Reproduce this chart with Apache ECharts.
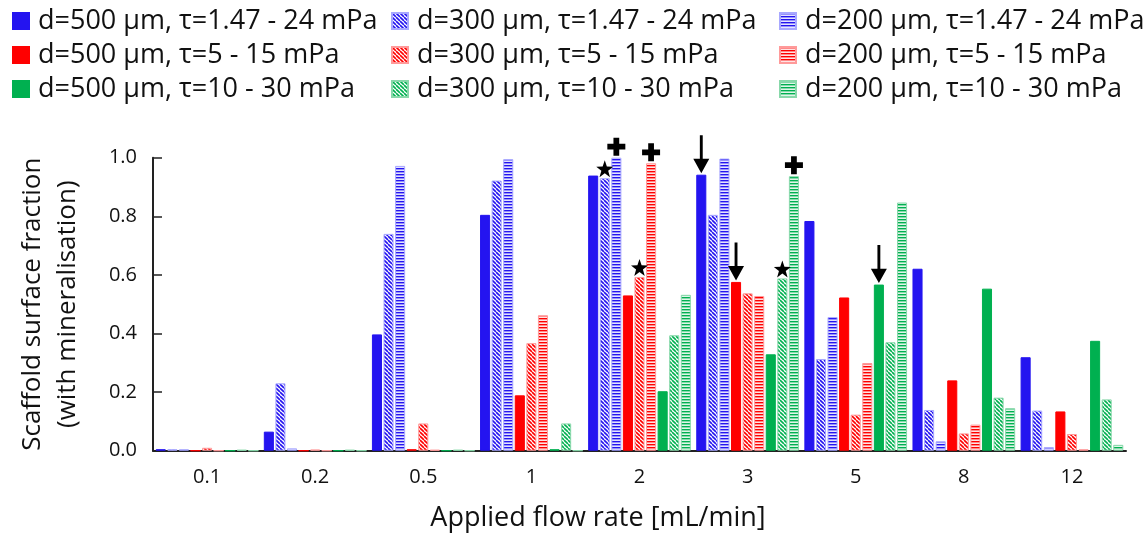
<!DOCTYPE html>
<html>
<head>
<meta charset="utf-8">
<script src="https://cdn.jsdelivr.net/npm/echarts@6/dist/echarts.min.js"></script>
<style>
html,body{margin:0;padding:0;background:#fff;}
#chart{width:1148px;height:534px;}
</style>
</head>
<body>
<div id="chart"></div>
<script>
const categories = ['0.1','0.2','0.5','1','2','3','5','8','12'];
const seriesNames = [
  'd=500 µm, τ=1.47 - 24 mPa','d=300 µm, τ=1.47 - 24 mPa','d=200 µm, τ=1.47 - 24 mPa',
  'd=500 µm, τ=5 - 15 mPa','d=300 µm, τ=5 - 15 mPa','d=200 µm, τ=5 - 15 mPa',
  'd=500 µm, τ=10 - 30 mPa','d=300 µm, τ=10 - 30 mPa','d=200 µm, τ=10 - 30 mPa'
];
const blue500  = [0.005,0.065,0.397,0.805,0.939,0.942,0.784,0.621,0.319];
const blue300  = [0.005,0.230,0.740,0.922,0.930,0.805,0.313,0.139,0.137];
const blue200  = [0.005,0.008,0.972,0.995,1.000,0.997,0.456,0.032,0.012];
const red500   = [0.000,0.000,0.005,0.189,0.530,0.576,0.523,0.240,0.134];
const red300   = [0.010,0.004,0.093,0.367,0.593,0.537,0.123,0.059,0.057];
const red200   = [0.000,0.000,0.003,0.462,0.981,0.528,0.299,0.089,0.005];
const green500 = [0.000,0.000,0.000,0.005,0.203,0.329,0.567,0.553,0.375];
const green300 = [0.003,0.003,0.003,0.093,0.394,0.588,0.370,0.181,0.175];
const green200 = [0.000,0.000,0.000,0.000,0.532,0.937,0.847,0.145,0.020];
const yTicks = ['0.0','0.2','0.4','0.6','0.8','1.0'];

const BLUE='#2414f0', RED='#ff0000', GREEN='#00b050';
const FONT='"Open Sans", "Noto Sans", sans-serif';

function hatch(color){
  const c=document.createElement('canvas'); c.width=4; c.height=4;
  const g=c.getContext('2d'); g.fillStyle='#ffffff'; g.fillRect(0,0,4,4);
  g.strokeStyle=color; g.lineWidth=1.6;
  for(const o of [-4,0,4]){ g.beginPath(); g.moveTo(o,0); g.lineTo(o+4,4); g.stroke(); }
  return {image:c, repeat:'repeat'};
}
function stripes(color, light){
  const c=document.createElement('canvas'); c.width=4; c.height=3;
  const g=c.getContext('2d'); g.fillStyle=light; g.fillRect(0,0,4,3);
  g.fillStyle=color; g.fillRect(0,0,4,1.4);
  return {image:c, repeat:'repeat'};
}
const styles = [
  {color:BLUE, borderColor:BLUE},
  {color:hatch(BLUE), borderColor:'#a8a8ff'},
  {color:stripes(BLUE,'#e4e4ff'), borderColor:'#a8a8ff'},
  {color:RED, borderColor:RED},
  {color:hatch(RED), borderColor:'#ff9a9a'},
  {color:stripes(RED,'#ffe4e4'), borderColor:'#ff9a9a'},
  {color:GREEN, borderColor:GREEN},
  {color:hatch(GREEN), borderColor:'#88d8aa'},
  {color:stripes(GREEN,'#e0f5e8'), borderColor:'#88d8aa'}
];
const values=[blue500,blue300,blue200,red500,red300,red200,green500,green300,green200];

const STAR='path://M50,2 L61.76,35.82 L97.55,36.55 L69.02,58.18 L79.39,92.45 L50,72 L20.61,92.45 L30.98,58.18 L2.45,36.55 L38.24,35.82 Z';
const PLUS='path://M34,0 H66 V34 H100 V66 H66 V100 H34 V66 H0 V34 H34 Z';
const ARROW='path://M41,0 H59 V62 H100 L50,100 L0,62 H41 Z';
function star(ci,v){return {coord:[ci,v],symbol:STAR,symbolSize:17,symbolOffset:[0,-9.5]};}
function plus(ci,v){return {coord:[ci,v],symbol:PLUS,symbolSize:18,symbolOffset:[0,-11]};}
function arrow(ci,v){return {coord:[ci,v],symbol:ARROW,symbolSize:[16,38],symbolOffset:[0,-20.5]};}
const marks = {
  1:[star(4,blue300[4])],
  2:[plus(4,blue200[4])],
  0:[arrow(5,blue500[5])],
  4:[star(4,red300[4])],
  5:[plus(4,red200[4])],
  3:[arrow(5,red500[5])],
  7:[star(5,green300[5])],
  8:[plus(5,green200[5])],
  6:[arrow(6,green500[6])]
};

const series = seriesNames.map((n,i)=>{
  const s={
    name:n, type:'bar', data:values[i],
    barGap:'15%', barCategoryGap:'5%',
    itemStyle:Object.assign({borderWidth:1}, styles[i]),
    emphasis:{disabled:true}
  };
  if(marks[i]){
    s.markPoint={silent:true,symbolKeepAspect:false,label:{show:false},
      itemStyle:{color:'#000'},data:marks[i]};
  }
  return s;
});

function legendCol(idx,left){
  return {
    orient:'vertical', left:left, top:1, itemGap:4,
    itemWidth:16, itemHeight:16, selectedMode:false,
    icon:'rect',
    textStyle:{fontFamily:FONT,fontSize:27,lineHeight:30,color:'#111',padding:[0,0,0,4]},
    data:idx.map(i=>seriesNames[i])
  };
}

const chart=echarts.init(document.getElementById('chart'),null,{renderer:'canvas'});
chart.setOption({
  animation:false,
  backgroundColor:'#ffffff',
  textStyle:{fontFamily:FONT},
  legend:[legendCol([0,3,6],7),legendCol([1,4,7],386),legendCol([2,5,8],774)],
  title:{text:'Applied flow rate [mL/min]',left:593,top:498,textAlign:'center',
    textStyle:{fontFamily:FONT,fontSize:27,lineHeight:30,fontWeight:'normal',color:'#111'}},
  grid:{left:153,right:22,top:157.7,bottom:83.3,containLabel:false},
  xAxis:{
    type:'category', data:categories,
    axisLine:{lineStyle:{color:'#222',width:2}},
    axisTick:{inside:true,length:7,lineStyle:{color:'#222',width:1.5}},
    axisLabel:{fontFamily:FONT,fontSize:20,color:'#111',margin:17}
  },
  yAxis:{
    type:'value', min:0, max:1, interval:0.2,
    name:'Scaffold surface fraction\n(with mineralisation)',
    nameLocation:'middle', nameGap:68, nameRotate:90,
    nameTextStyle:{fontFamily:FONT,fontSize:26,color:'#111',lineHeight:35},
    axisLine:{show:true,lineStyle:{color:'#222',width:2}},
    axisTick:{show:true,inside:true,length:9,lineStyle:{color:'#222',width:1.5}},
    splitLine:{show:false},
    axisLabel:{fontFamily:FONT,fontSize:20,color:'#111',margin:16,
      formatter:(v)=>yTicks[Math.round(v/0.2)]}
  },
  series:series
});
</script>
</body>
</html>
